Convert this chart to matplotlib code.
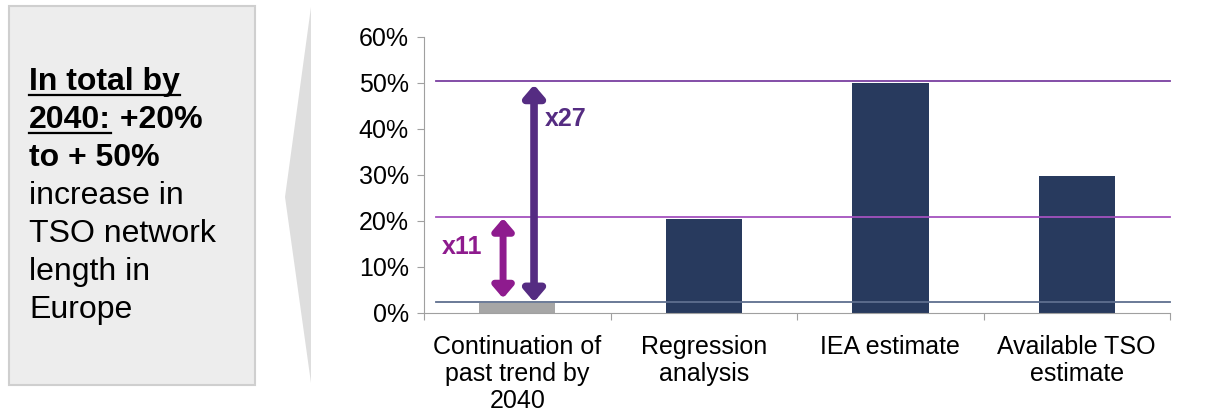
import matplotlib.pyplot as plt
from matplotlib.patches import Rectangle, Polygon

categories = ["Continuation of\npast trend by\n2040", "Regression\nanalysis",
              "IEA estimate", "Available TSO\nestimate"]
values = [2.1, 20.4, 50.0, 29.8]
bar_colors = ["#A6A6A6", "#283A5E", "#283A5E", "#283A5E"]
ref_levels = [2.4, 20.9, 50.4]
ref_colors = ["#5F6F8F", "#A452BE", "#7A3FA0"]
yticks = [0, 10, 20, 30, 40, 50, 60]

plt.rcParams["font.family"] = ["Liberation Sans", "DejaVu Sans"]

fig = plt.figure(figsize=(12.1, 4.18), dpi=100)
ax = fig.add_axes([0.3504, 0.2512, 0.6166, 0.6603])

x = range(len(categories))
ax.bar(x, values, width=0.41, color=bar_colors, zorder=2)
for lvl, c in zip(ref_levels, ref_colors):
    ax.plot([-0.436, 3.5], [lvl, lvl], color=c, lw=1.3, zorder=3, clip_on=False)

# growth arrows
astyle = "<|-|>,head_length=0.7,head_width=0.6"
ax.annotate("", xy=(-0.076, 20.6), xytext=(-0.076, 3.2),
            arrowprops=dict(arrowstyle=astyle, color="#8E1B8E", lw=5,
                            shrinkA=0, shrinkB=0), zorder=4)
ax.annotate("", xy=(0.09, 49.6), xytext=(0.09, 2.4),
            arrowprops=dict(arrowstyle=astyle, color="#552C82", lw=5.5,
                            shrinkA=0, shrinkB=0), zorder=4)
ax.text(-0.296, 14.4, "x11", color="#8E1B8E", fontsize=18, fontweight="bold",
        ha="center", va="center")
ax.text(0.26, 42.1, "x27", color="#552C82", fontsize=18, fontweight="bold",
        ha="center", va="center")

ax.set_xlim(-0.5, 3.5)
ax.set_ylim(0, 60)
ax.set_yticks(yticks)
ax.set_yticklabels([f"{t}%" for t in yticks], fontsize=18)
ax.set_xticks([i - 0.5 for i in range(len(categories) + 1)])
ax.set_xticklabels([])
ax.set_xticks(list(x), minor=True)
ax.set_xticklabels(categories, minor=True, fontsize=18, linespacing=1.15)
ax.tick_params(axis="x", which="minor", length=0, pad=16)
ax.tick_params(axis="x", which="major", length=5, color="#A0A0A0")
ax.tick_params(axis="y", length=5, color="#A0A0A0", pad=6)
for s in ["top", "right"]:
    ax.spines[s].set_visible(False)
for s in ["left", "bottom"]:
    ax.spines[s].set_color("#A0A0A0")

# left summary box
fig.patches.append(Rectangle((9 / 1210, 1 - 385 / 418), 246 / 1210, 379 / 418,
                             transform=fig.transFigure, facecolor="#EDEDED",
                             edgecolor="#CFCFCF", lw=1.5))
fig.patches.append(Polygon([(311 / 1210, 1 - 7 / 418), (285 / 1210, 1 - 197 / 418),
                            (311 / 1210, 1 - 383 / 418)], closed=True,
                           transform=fig.transFigure, facecolor="#DEDEDE",
                           edgecolor="none"))

lines = [("In total by", "bold", True), ("2040:", "bold", True), ("to + 50%", "bold", False),
         ("increase in", "normal", False), ("TSO network", "normal", False),
         ("length in", "normal", False), ("Europe", "normal", False)]
x0 = 29 / 1210
renderer = fig.canvas.get_renderer()
for i, (txt, w, ul) in enumerate(lines):
    yc = 1 - (82 + 38 * i) / 418
    t = fig.text(x0, yc, txt, fontsize=23, fontweight=w, ha="left", va="center")
    bb = t.get_window_extent(renderer)
    if ul:
        yb = (bb.y0 + 2) / 418
        fig.add_artist(plt.Line2D([bb.x0 / 1210, bb.x1 / 1210], [yb, yb],
                                  transform=fig.transFigure, color="black", lw=1.6))
    if txt == "2040:":
        fig.text(bb.x1 / 1210, yc, " +20%", fontsize=23, fontweight="bold",
                 ha="left", va="center")

fig.savefig("out.png", dpi=100)
